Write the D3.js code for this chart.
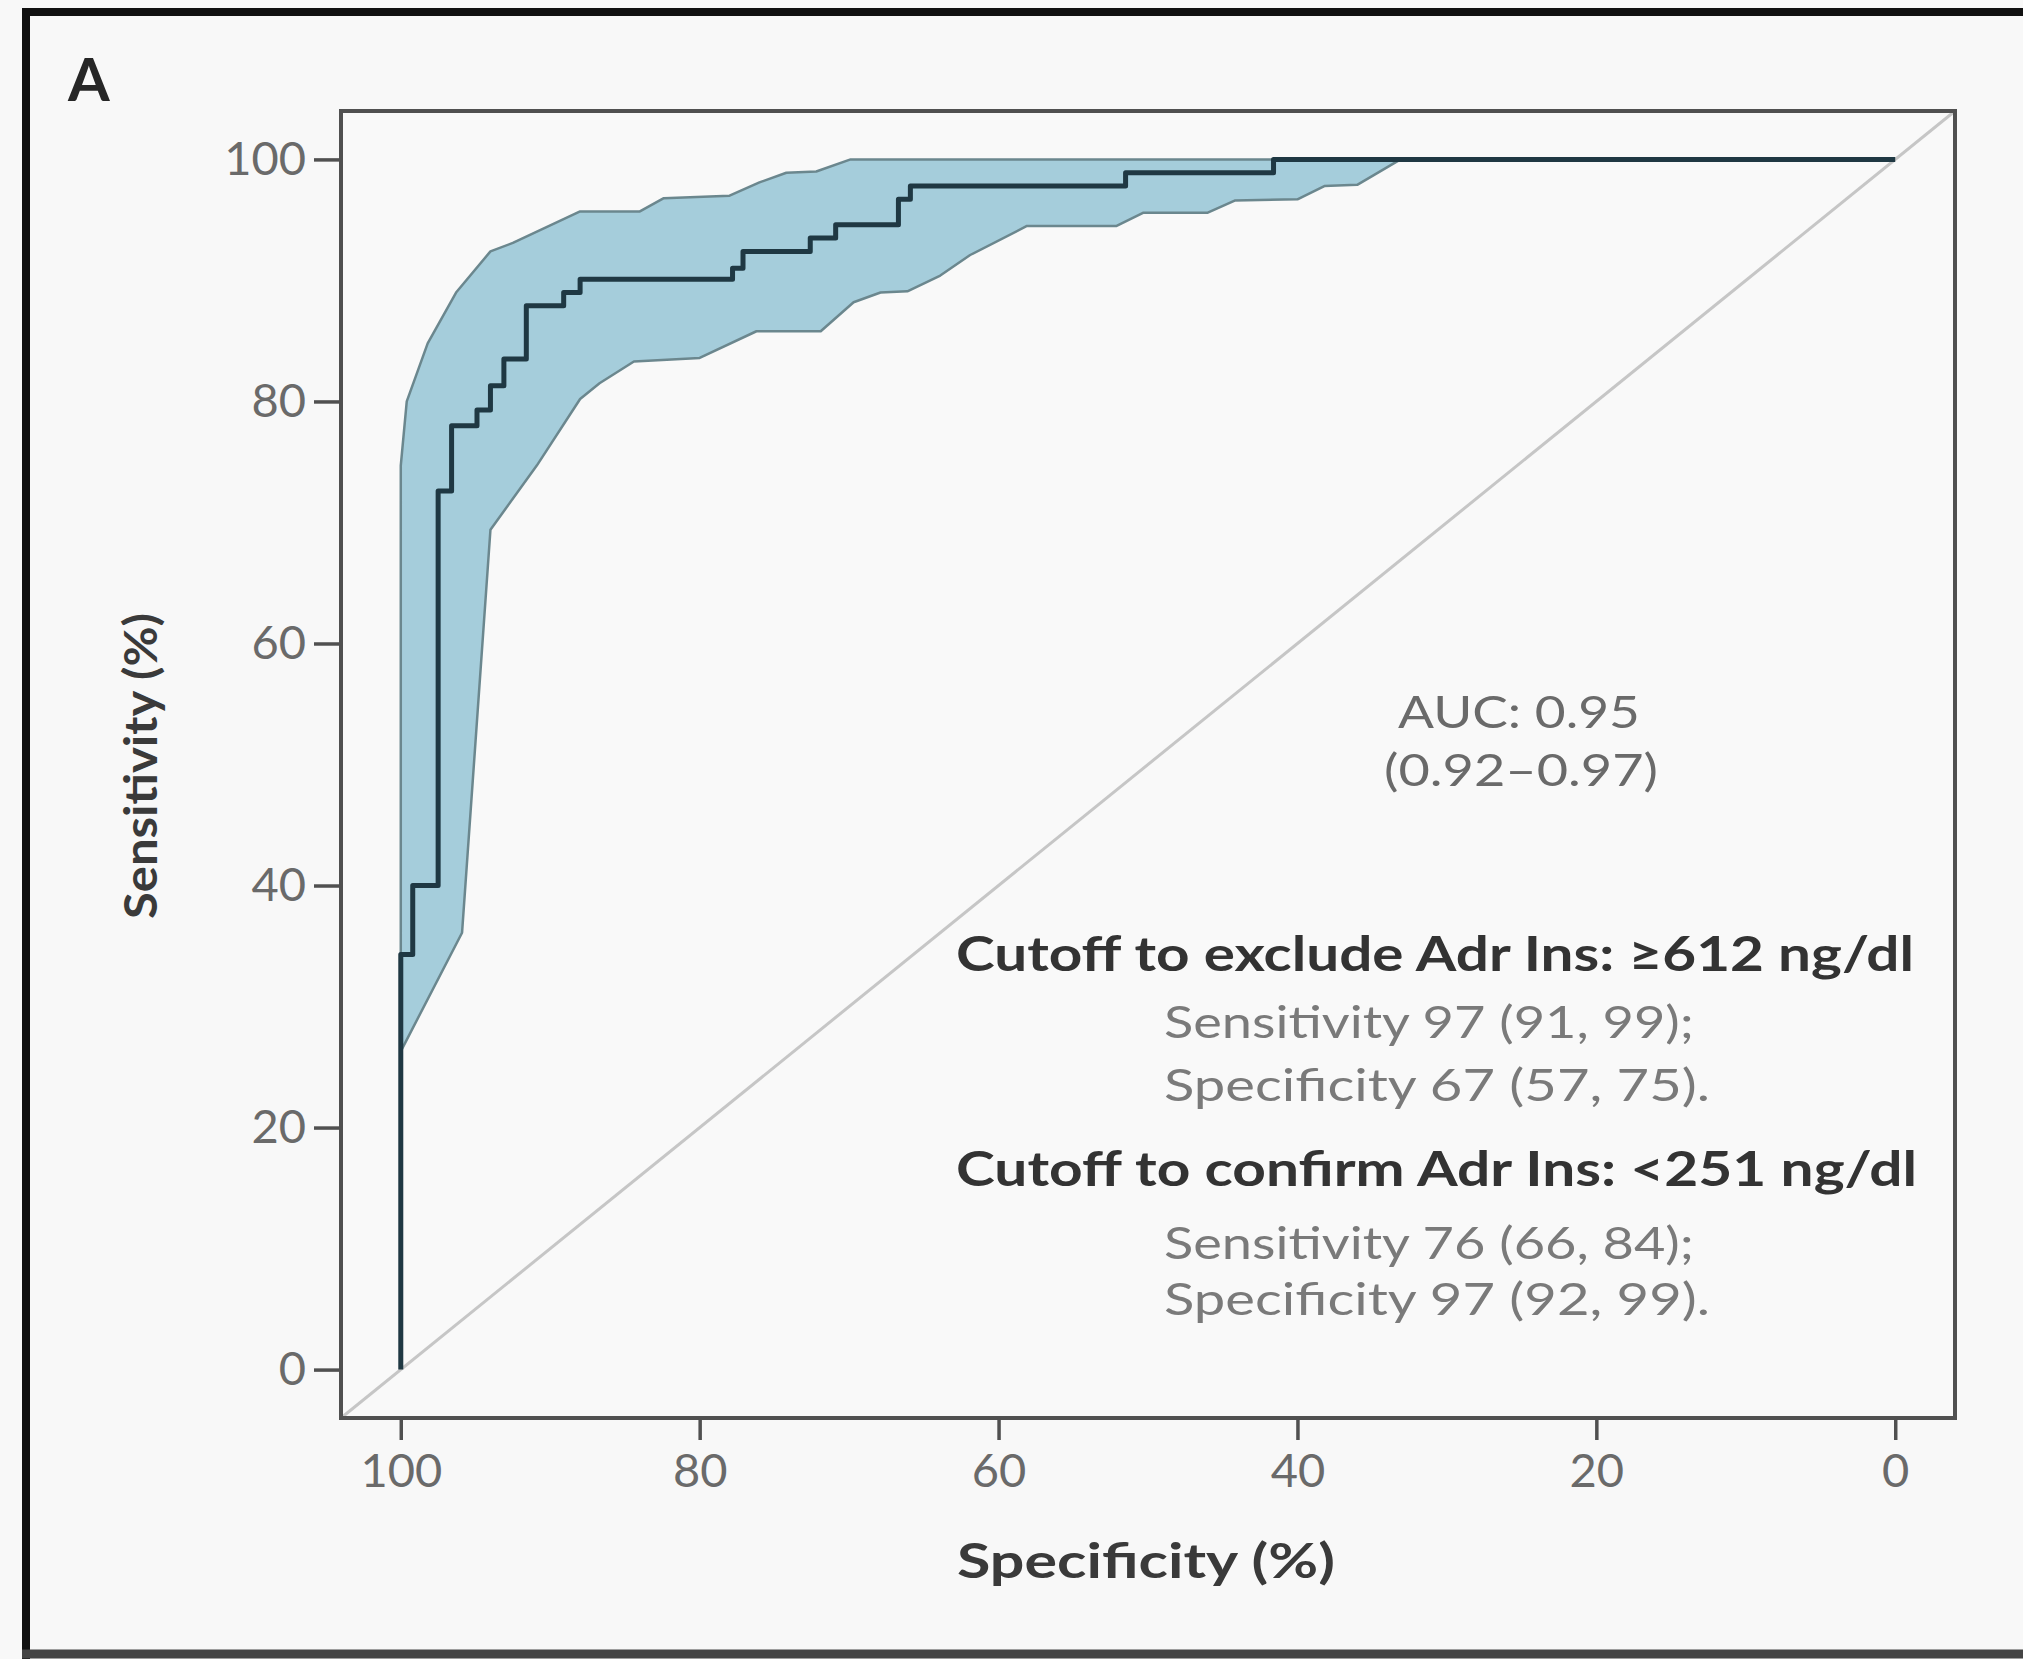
<!DOCTYPE html>
<html><head><meta charset="utf-8">
<script src="https://cdn.jsdelivr.net/npm/d3@7"></script>
<style>html,body{margin:0;padding:0;background:#f8f8f8;} svg{display:block;}</style>
</head><body>
<svg id="chart" width="2023" height="1659"></svg>
<script>
// ---- Data ----
const rocSpec = [100, 100, 99.2, 99.2, 97.5, 97.5, 96.6, 96.6, 94.9, 94.9, 94.0, 94.0, 93.1, 93.1, 91.6, 91.6, 89.1, 89.1, 88.0, 88.0, 77.8, 77.8, 77.1, 77.1, 72.6, 72.6, 70.9, 70.9, 66.7, 66.7, 65.9, 65.9, 51.5, 51.5, 41.6, 41.6, 0];
const rocSens = [0, 34.3, 34.3, 40.0, 40.0, 72.6, 72.6, 78.0, 78.0, 79.3, 79.3, 81.3, 81.3, 83.5, 83.5, 87.9, 87.9, 89.0, 89.0, 90.1, 90.1, 91.0, 91.0, 92.4, 92.4, 93.5, 93.5, 94.6, 94.6, 96.7, 96.7, 97.8, 97.8, 98.9, 98.9, 100, 100];

const upperSpec = [100, 100, 99.6, 98.2, 96.3, 94.0, 92.5, 88.0, 84.0, 82.4, 78.0, 76.0, 74.2, 72.2, 69.9, 33.1];
const upperSens = [26.3, 74.7, 80.0, 84.8, 89.0, 92.4, 93.1, 95.7, 95.7, 96.8, 97.0, 98.1, 98.9, 99.0, 100, 100];

const lowerSpec = [100, 95.9, 94.0, 90.9, 88.0, 86.7, 84.4, 80.0, 76.2, 71.9, 69.7, 67.9, 66.1, 63.9, 61.9, 58.1, 52.1, 50.3, 46.0, 44.2, 40.0, 38.2, 36.0, 33.1];
const lowerSens = [26.3, 36.1, 69.4, 74.7, 80.2, 81.5, 83.3, 83.6, 85.8, 85.8, 88.2, 89.0, 89.1, 90.4, 92.1, 94.5, 94.5, 95.6, 95.6, 96.6, 96.7, 97.8, 97.9, 100];

const xTicks = [100, 80, 60, 40, 20, 0];
const yTicks = [0, 20, 40, 60, 80, 100];
const panelLabel = "A";
const xTitle = "Specificity (%)";
const yTitle = "Sensitivity (%)";
const aucLines = ["AUC: 0.95", "(0.92\u20130.97)"];
const cutoffTitles = ["Cutoff to exclude Adr Ins: \u2265612 ng/dl", "Cutoff to confirm Adr Ins: <251 ng/dl"];
const cutoffDetails = [
  ["Sensitivity 97 (91, 99);", "Specificity 67 (57, 75)."],
  ["Sensitivity 76 (66, 84);", "Specificity 97 (92, 99)."]
];

// ---- Layout ----
const svg = d3.select("#chart");
const W = 2023, H = 1659;
const box = {left: 341, right: 1955, top: 111, bottom: 1418};
const x = d3.scaleLinear().domain([104, -4]).range([box.left, box.right]);
const y = d3.scaleLinear().domain([-4, 104]).range([box.bottom, box.top]);
const FONT = "Lato, 'Open Sans', sans-serif";

svg.append("rect").attr("width", W).attr("height", H).attr("fill", "#f8f8f8");

// outer panel border
svg.append("line").attr("x1", 22).attr("x2", W).attr("y1", 12).attr("y2", 12).attr("stroke", "#111").attr("stroke-width", 8);
svg.append("line").attr("x1", 26).attr("x2", 26).attr("y1", 8).attr("y2", H).attr("stroke", "#111").attr("stroke-width", 8);
svg.append("line").attr("x1", 22).attr("x2", W).attr("y1", 1654).attr("y2", 1654).attr("stroke", "#444").attr("stroke-width", 9);

// plot area
svg.append("rect").attr("x", box.left).attr("y", box.top)
  .attr("width", box.right - box.left).attr("height", box.bottom - box.top)
  .attr("fill", "#f9f9f9");

// diagonal reference line
svg.append("line")
  .attr("x1", x(104)).attr("y1", y(-4)).attr("x2", x(-4)).attr("y2", y(104))
  .attr("stroke", "#c6c6c6").attr("stroke-width", 3);

// confidence band
const upper = upperSpec.map((s, i) => [s, upperSens[i]]);
const lower = lowerSpec.map((s, i) => [s, lowerSens[i]]);
const bandPts = upper.concat(lower.slice().reverse());
const lineGen = d3.line().x(d => x(d[0])).y(d => y(d[1]));
svg.append("path")
  .attr("d", lineGen(bandPts) + "Z")
  .attr("fill", "#a5cddb").attr("stroke", "#6b878e").attr("stroke-width", 2.5)
  .attr("stroke-linejoin", "round");

// ROC curve
const roc = rocSpec.map((s, i) => [s, rocSens[i]]);
svg.append("path")
  .attr("d", lineGen(roc))
  .attr("fill", "none").attr("stroke", "#1f3843").attr("stroke-width", 5)
  .attr("stroke-linejoin", "round");

// frame
svg.append("rect").attr("x", box.left).attr("y", box.top)
  .attr("width", box.right - box.left).attr("height", box.bottom - box.top)
  .attr("fill", "none").attr("stroke", "#505050").attr("stroke-width", 4);

// axes
const yAxis = d3.axisLeft(y).tickValues(yTicks).tickSize(27).tickPadding(8).tickFormat(d3.format("d"));
const gy = svg.append("g").attr("transform", `translate(${box.left},0)`).call(yAxis);
const xAxis = d3.axisBottom(x).tickValues(xTicks).tickSize(22).tickPadding(14).tickFormat(d3.format("d"));
const gx = svg.append("g").attr("transform", `translate(0,${box.bottom})`).call(xAxis);
[gx, gy].forEach(g => {
  g.select(".domain").remove();
  g.selectAll(".tick line").attr("stroke", "#505050").attr("stroke-width", 3.5);
  g.selectAll(".tick text").attr("fill", "#6a6a6a").style("font-family", FONT).style("font-size", "47px");
});

// panel label
svg.append("text").attr("x", 68).attr("y", 101).text(panelLabel)
  .style("font-family", FONT).style("font-weight", "bold").style("font-size", "60px").attr("fill", "#262626");

// helper for text with fixed rendered width
function label(sel, txt, len) {
  sel.text(txt).attr("textLength", len).attr("lengthAdjust", "spacingAndGlyphs");
  return sel;
}

// axis titles
label(svg.append("text").attr("x", 1146).attr("y", 1578).attr("text-anchor", "middle"), xTitle, 378)
  .style("font-family", FONT).style("font-weight", "bold").style("font-size", "48px").attr("fill", "#3a3a3a");
label(svg.append("text").attr("transform", `translate(157,766) rotate(-90)`).attr("text-anchor", "middle"), yTitle, 306)
  .style("font-family", FONT).style("font-weight", "bold").style("font-size", "46px").attr("fill", "#3a3a3a");

// AUC annotation
const aucY = [728, 786];
const aucX = [1519, 1521];
const aucLen = [242, 274];
aucLines.forEach((t, i) => {
  label(svg.append("text").attr("x", aucX[i]).attr("y", aucY[i]).attr("text-anchor", "middle"), t, aucLen[i])
    .style("font-family", FONT).style("font-size", "45px").attr("fill", "#6a6a6a");
});

// cutoff annotations
const titleY = [971, 1186];
const titleLen = [958, 961];
const detailY = [[1038, 1101], [1259, 1315]];
const detailLen = [530, 546];
cutoffTitles.forEach((t, i) => {
  label(svg.append("text").attr("x", 956).attr("y", titleY[i]), t, titleLen[i])
    .style("font-family", FONT).style("font-weight", "bold").style("font-size", "47px").attr("fill", "#333");
  cutoffDetails[i].forEach((d, j) => {
    label(svg.append("text").attr("x", 1164).attr("y", detailY[i][j]), d, detailLen[j])
      .style("font-family", FONT).style("font-size", "44px").attr("fill", "#7a7a7a");
  });
});
</script>
</body></html>
